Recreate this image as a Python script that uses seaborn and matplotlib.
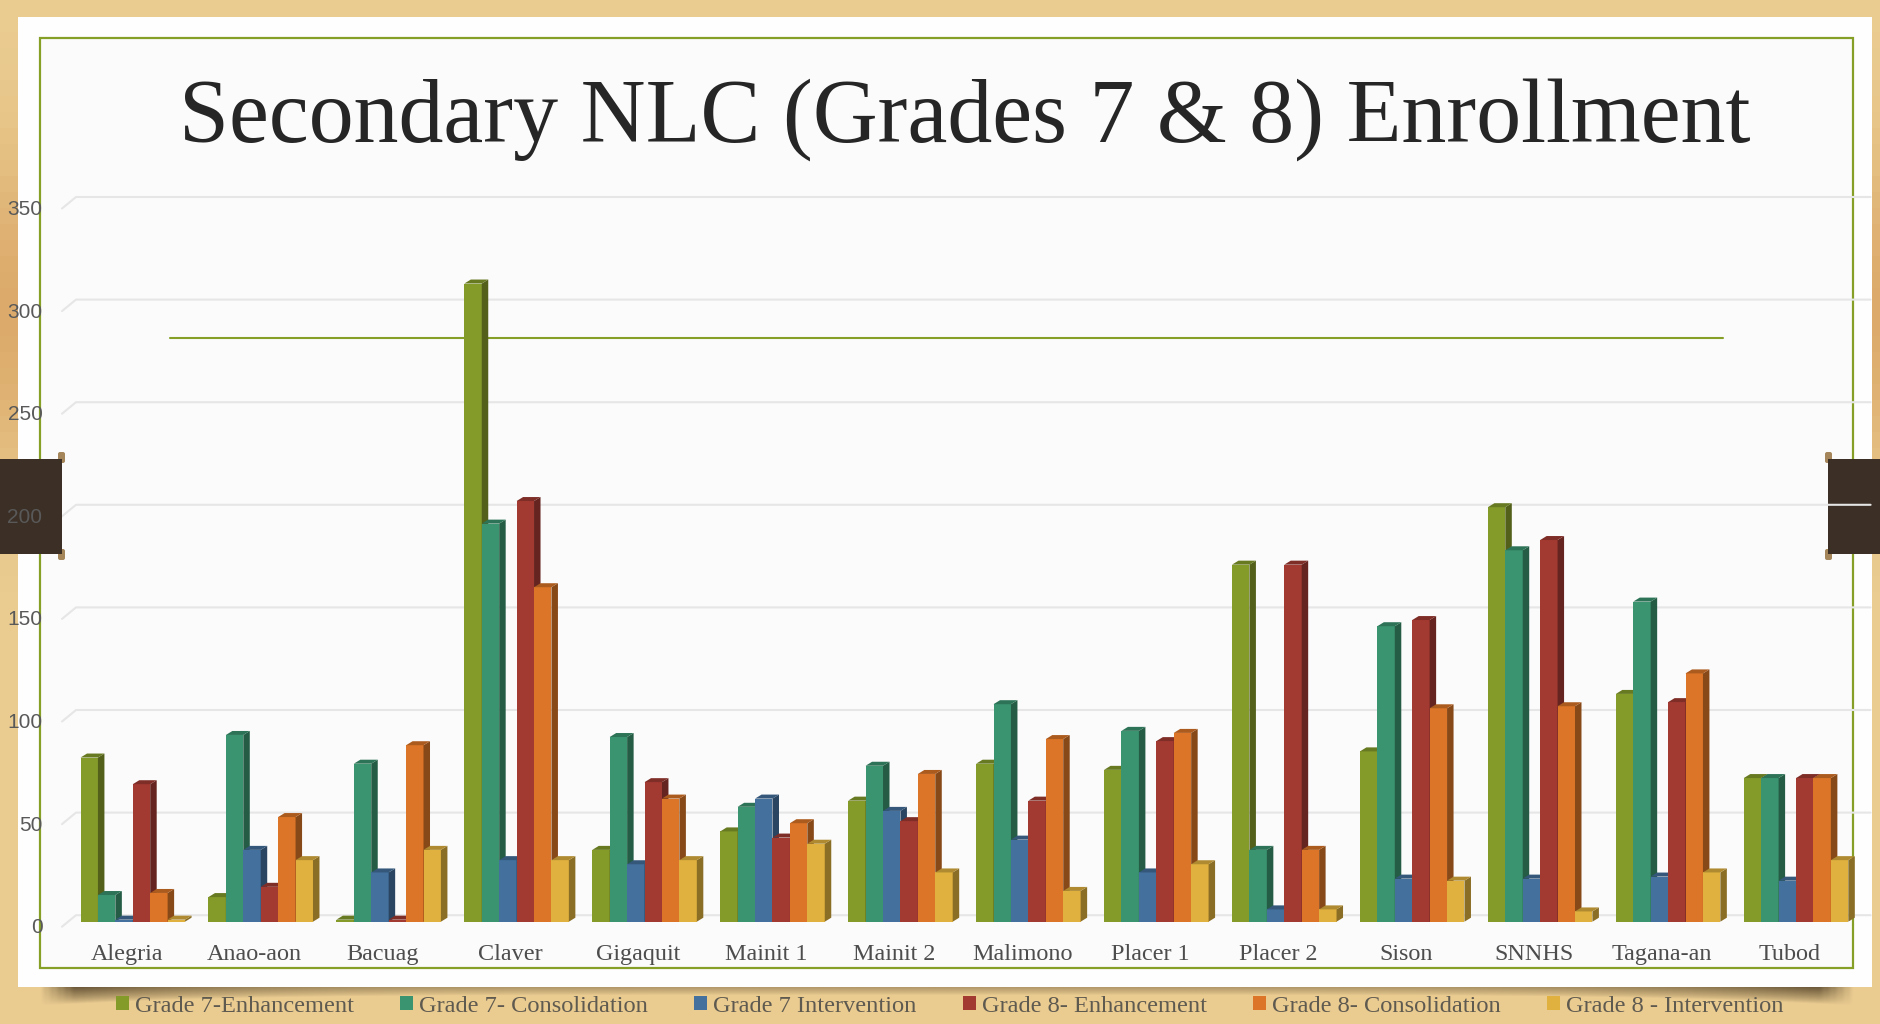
import numpy as np
import pandas as pd
import matplotlib
matplotlib.use('Agg')
import matplotlib.pyplot as plt
from matplotlib.colors import to_rgb
from matplotlib.patches import FancyBboxPatch, Polygon, Rectangle
from matplotlib.transforms import ScaledTranslation
import seaborn as sns

schools = ['Alegria', 'Anao-aon', 'Bacuag', 'Claver', 'Gigaquit', 'Mainit 1', 'Mainit 2',
           'Malimono', 'Placer 1', 'Placer 2', 'Sison', 'SNNHS', 'Tagana-an', 'Tubod']
g7_enhancement = [80, 12, 1, 311, 35, 44, 59, 77, 74, 174, 83, 202, 111, 70]
g7_consolidation = [13, 91, 77, 194, 90, 56, 76, 106, 93, 35, 144, 181, 156, 70]
g7_intervention = [1, 35, 24, 30, 28, 60, 54, 40, 24, 6, 21, 21, 22, 20]
g8_enhancement = [67, 17, 1, 205, 68, 41, 49, 59, 88, 174, 147, 186, 107, 70]
g8_consolidation = [14, 51, 86, 163, 60, 48, 72, 89, 92, 35, 104, 105, 121, 70]
g8_intervention = [1, 30, 35, 30, 30, 38, 24, 15, 28, 6, 20, 5, 24, 30]

series_names = ['Grade 7-Enhancement', 'Grade 7- Consolidation', 'Grade 7 Intervention',
                'Grade 8- Enhancement', 'Grade 8- Consolidation', 'Grade 8 - Intervention']
series_colors = ['#849b2a', '#3a9470', '#43709d', '#a33a32', '#dc7527', '#e0b13e']
y_ticks = [0, 50, 100, 150, 200, 250, 300, 350]

TITLE = 'Secondary NLC (Grades 7 & 8) Enrollment'
W, H = 1880, 1024
PX_PER_CAT = 127.9
PX_PER_UNIT = 2.052
AX_LEFT, AX_RIGHT = 68.8, 1860.0
AX_BOTTOM = 921.7
DEPTH_X, DEPTH_Y = 6.5 / PX_PER_CAT, 4 / PX_PER_UNIT
FRAME = '#86a027'
TAB = '#3b2f26'
KNOB = '#a5865a'


def shade(color, factor):
    """Darker version of a colour for the bar sides."""
    return tuple(c * factor for c in to_rgb(color))


def draw_clip(target, transform, x0, width, knob_x, zorder):
    """One dark clip with small rounded knobs on its inner edge."""
    for y in (452, 549):
        target.add_patch(FancyBboxPatch((knob_x, y + 2), 3, 7, boxstyle='round,pad=2', color=KNOB, lw=0,
                                        transform=transform, zorder=zorder, clip_on=False))
    target.add_patch(Rectangle((x0, 459), width, 95, color=TAB, lw=0, transform=transform,
                               zorder=zorder, clip_on=False))


def draw_slide(bg):
    """Wood background, paper, frame and the rule under the title."""
    bg.set_xlim(0, W)
    bg.set_ylim(H, 0)
    bg.axis('off')

    # soft wood tones, warmer in the upper half
    yy, xx = np.mgrid[0:1:64j, 0:1:64j]
    warm = np.exp(-((yy - 0.3) / 0.16) ** 2)[..., None]
    light = np.array(to_rgb('#ebcd92'))
    dark = np.array(to_rgb('#dcab6b'))
    bg.imshow(light * (1 - warm) + dark * warm, extent=(0, W, H, 0), aspect='auto', zorder=0)

    # shadow under the paper, heavier towards the corners
    yy, xx = np.mgrid[0:1:24j, 0:1:256j]
    corners = 0.35 + 0.5 * np.abs(2 * xx - 1) ** 5
    edges = np.clip(xx / 0.02, 0, 1) * np.clip((1 - xx) / 0.02, 0, 1)
    reach = 0.45 + 0.55 * np.abs(2 * xx - 1) ** 5
    alpha = corners * edges * np.clip(1 - yy / reach, 0, 1) ** 0.8
    shadow = np.zeros(alpha.shape + (4,))
    shadow[..., :3] = to_rgb('#3b2c18')
    shadow[..., 3] = alpha
    bg.imshow(shadow, extent=(36, 1858, 1006, 986), aspect='auto', zorder=1)
    bg.set_xlim(0, W)
    bg.set_ylim(H, 0)

    bg.add_patch(Rectangle((18, 17), 1854, 970, color='#fefefe', lw=0, zorder=2))
    bg.add_patch(Rectangle((40, 38), 1813, 930, facecolor='#fbfbfb', edgecolor=FRAME,
                           lw=1.6, zorder=3))
    bg.plot([170, 1723], [338, 338], color=FRAME, lw=1.5, zorder=4)
    draw_clip(bg, bg.transData, 1828, 52, 1827, 6)


def draw_gridlines(ax):
    """Back wall gridlines with the little diagonal at the left."""
    x_back = (76 - AX_LEFT) / PX_PER_CAT - 0.5
    x_tip = (62 - AX_LEFT) / PX_PER_CAT - 0.5
    x_end = (1870 - AX_LEFT) / PX_PER_CAT - 0.5
    for tick in y_ticks:
        back = tick + 6.5 / PX_PER_UNIT
        tip = tick - 5 / PX_PER_UNIT
        ax.plot([x_tip, x_back, x_end], [tip, back, back], color='#e6e6e6', lw=1.5,
                clip_on=False, zorder=0.2)


def add_depth(ax):
    """Give every seaborn bar a side and a top face."""
    for i, container in enumerate(ax.containers):
        color = series_colors[i]
        for bar in container:
            x0, x1 = bar.get_x(), bar.get_x() + bar.get_width()
            top = bar.get_height()
            bar.set_zorder(3 + i)
            ax.add_patch(Polygon([(x1, 0), (x1 + DEPTH_X, DEPTH_Y), (x1 + DEPTH_X, top + DEPTH_Y), (x1, top)],
                                 facecolor=shade(color, 0.62), lw=0, zorder=3 + i, clip_on=False))
            ax.add_patch(Polygon([(x0, top), (x0 + DEPTH_X, top + DEPTH_Y), (x1 + DEPTH_X, top + DEPTH_Y), (x1, top)],
                                 facecolor=shade(color, 0.78), lw=0, zorder=3 + i, clip_on=False))


def main():
    sns.set_theme(style='white')
    plt.rcParams['font.family'] = ['Liberation Serif', 'DejaVu Serif']

    df = pd.DataFrame({
        'school': schools * 6,
        'series': np.repeat(series_names, len(schools)),
        'enrollment': g7_enhancement + g7_consolidation + g7_intervention
        + g8_enhancement + g8_consolidation + g8_intervention,
    })

    fig = plt.figure(figsize=(W / 100, H / 100), dpi=100)
    bg = fig.add_axes([0, 0, 1, 1], zorder=-1)
    draw_slide(bg)

    ax_h = 350 * PX_PER_UNIT
    ax = fig.add_axes([AX_LEFT / W, 1 - AX_BOTTOM / H, (AX_RIGHT - AX_LEFT) / W, ax_h / H], zorder=1)
    ax.patch.set_visible(False)
    ax.set_axisbelow(True)

    sns.barplot(data=df, x='school', y='enrollment', hue='series', order=schools,
                hue_order=series_names, palette=series_colors, saturation=1,
                width=0.817, gap=0, errorbar=None, linewidth=0, ax=ax)
    ax.set_xlim(-0.5, 13.5)
    ax.set_ylim(0, 350)
    ax.set_xlabel('')
    ax.set_ylabel('')
    ax.set_yticks(y_ticks)
    ax.tick_params(axis='x', length=0, pad=16, labelsize=17.4, labelcolor='#4d4d4d')
    ax.tick_params(axis='y', length=0, pad=19, labelsize=15, labelcolor='#595959')
    sns.despine(ax=ax, left=True, bottom=True)

    for label in ax.get_yticklabels():
        label.set_family('Liberation Sans')
        label.set_transform(label.get_transform() + ScaledTranslation(0, -4 / 100, fig.dpi_scale_trans))
    for label in ax.get_xticklabels():
        label.set_transform(label.get_transform() + ScaledTranslation(-6 / 100, 0, fig.dpi_scale_trans))

    draw_gridlines(ax)
    add_depth(ax)
    # the left clip sits over the gridlines, under the tick labels
    draw_clip(ax, bg.transData, 0, 62, 60, 0.3)

    fig.text(965 / W, 1 - 142 / H, TITLE, ha='center', va='baseline', fontsize=64.7, color='#262626')

    sns.move_legend(ax, 'center left', bbox_to_anchor=(116 / W, 1 - 1006 / H),
                    bbox_transform=fig.transFigure, ncol=6, frameon=False, title=None,
                    fontsize=17.6, labelcolor='#5f5a50', columnspacing=1.9, handlelength=0.52,
                    handleheight=0.52, handletextpad=0.25, borderpad=0, borderaxespad=0)

    fig.savefig('out.png', dpi=100)


if __name__ == "__main__":
    main()
